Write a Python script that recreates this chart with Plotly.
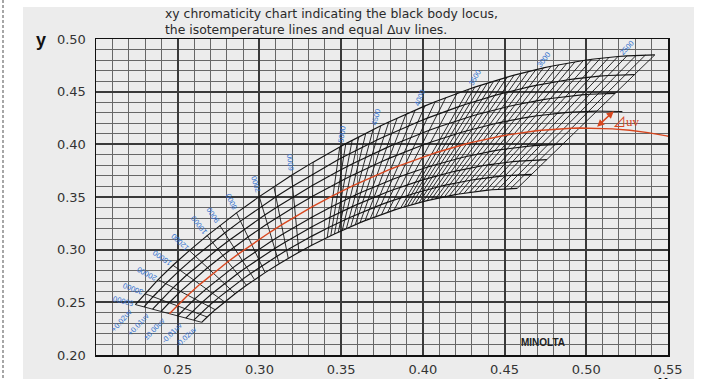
import math
import numpy as np
import plotly.graph_objects as go

# ---------------- values ----------------
# colour temperatures (K) of the isotemperature lines drawn in the mesh
ISO_TEMPS_K = [2300, 2350, 2400, 2450, 2500, 2550, 2600, 2650, 2700, 2750, 2800, 2850,
               2900, 2950, 3000, 3050, 3100, 3150, 3200, 3250, 3300, 3350, 3400, 3450,
               3500, 3600, 3700, 3800, 3900, 4000, 4100, 4200, 4300, 4400, 4500, 4600,
               4700, 4800, 4900, 5000, 5500, 6000, 6500, 7000, 8000, 9000, 10000, 12000,
               15000, 20000, 30000, 50000]
# equal delta-uv lines of the mesh
DUV_LEVELS = [-0.02, -0.015, -0.01, -0.005, 0.0, 0.005, 0.01, 0.015, 0.02]
# labelled isotemperature lines
LABEL_TEMPS_K = [2500, 3000, 3500, 4000, 4500, 5000, 6000, 7000, 8000, 9000, 10000,
                 12000, 15000, 20000, 30000, 50000]
# labelled delta-uv lines
DUV_LABEL_LEVELS = [0.02, 0.01, 0.0, -0.01, -0.02]
DUV_LABEL_TEXT = ["+0.02uv", "+0.01uv", "±0.00uv", "-0.01uv", "-0.02uv"]
# black body locus continues past the mesh to these temperatures
LOCUS_TAIL_K = [2200, 2100, 2000, 1900, 1800, 1700]
# one delta-uv line is prolonged to illustrate the delta-uv arrow
EXT_LINE_DUV = 0.005
EXT_LINE_TAIL_K = [2250, 2200, 2150]
ARROW_T_K = 2200
X_TICKS = [0.25, 0.30, 0.35, 0.40, 0.45, 0.50, 0.55]
X_TICK_TEXT = ["0.25", "0.30", "0.35", "0.40", "0.45", "0.50", "0.55"]
Y_TICKS = [0.20, 0.25, 0.30, 0.35, 0.40, 0.45, 0.50]
Y_TICK_TEXT = ["0.20", "0.25", "0.30", "0.35", "0.40", "0.45", "0.50"]
X_RANGE = [0.20, 0.55]
Y_RANGE = [0.20, 0.50]

# ---------------- colour-science conversion (T, duv) -> CIE 1931 xy ----------------
def planck_uv(T):
    """Planckian locus in CIE 1960 uv (Krystek 1985 rational approximation)."""
    T = np.asarray(T, dtype=float)
    u = (0.860117757 + 1.54118254e-4 * T + 1.28641212e-7 * T ** 2) / \
        (1 + 8.42420235e-4 * T + 7.08145163e-7 * T ** 2)
    v = (0.317398726 + 4.22806245e-5 * T + 4.20481691e-8 * T ** 2) / \
        (1 - 2.89741816e-5 * T + 1.61456053e-7 * T ** 2)
    return u, v


def cct_duv_to_xy(T, duv):
    T = np.asarray(T, dtype=float)
    u, v = planck_uv(T)
    h = T * 1e-4
    u1, v1 = planck_uv(T + h)
    u0, v0 = planck_uv(T - h)
    tu, tv = u1 - u0, v1 - v0
    n = np.hypot(tu, tv)
    tu, tv = tu / n, tv / n
    uu = u + duv * tv
    vv = v - duv * tu
    d = 2 * uu - 8 * vv + 4
    return 3 * uu / d, 2 * vv / d


# ---------------- figure geometry ----------------
W, H = 722, 379
ML, MR, MT, MB = 96, 54, 39, 24
PW, PH = W - ML - MR, H - MT - MB


def to_px(x, y):
    return (ML + (x - X_RANGE[0]) / (X_RANGE[1] - X_RANGE[0]) * PW,
            MT + (Y_RANGE[1] - y) / (Y_RANGE[1] - Y_RANGE[0]) * PH)


def from_px(px, py):
    return (X_RANGE[0] + (px - ML) / PW * (X_RANGE[1] - X_RANGE[0]),
            Y_RANGE[1] - (py - MT) / PH * (Y_RANGE[1] - Y_RANGE[0]))


def paper(px, py):
    return (px - ML) / PW, 1 - (py - MT) / PH


RED = "#d8471f"
BLUE = "#2f6fce"
INK = "#141414"

fig = go.Figure()

# isotemperature lines
ix, iy = [], []
for T in ISO_TEMPS_K:
    xa, ya = cct_duv_to_xy(T, DUV_LEVELS[0])
    xb, yb = cct_duv_to_xy(T, DUV_LEVELS[-1])
    ix += [float(xa), float(xb), None]
    iy += [float(ya), float(yb), None]
fig.add_trace(go.Scatter(x=ix, y=iy, mode="lines", line=dict(color=INK, width=0.9),
                         hoverinfo="skip", showlegend=False))

# equal delta-uv lines
temps_sorted = sorted(ISO_TEMPS_K)
dx_, dy_ = [], []
for lvl in DUV_LEVELS:
    if lvl == 0.0:
        continue
    xs, ys = cct_duv_to_xy(temps_sorted, lvl)
    dx_ += list(map(float, xs)) + [None]
    dy_ += list(map(float, ys)) + [None]
fig.add_trace(go.Scatter(x=dx_, y=dy_, mode="lines", line=dict(color=INK, width=1.15),
                         hoverinfo="skip", showlegend=False))

# prolonged delta-uv line near the arrow
ext_t = [min(ISO_TEMPS_K)] + EXT_LINE_TAIL_K
ex, ey = cct_duv_to_xy(ext_t, EXT_LINE_DUV)
fig.add_trace(go.Scatter(x=ex, y=ey, mode="lines", line=dict(color=INK, width=1.0),
                         hoverinfo="skip", showlegend=False))

# black body locus (red)
locus_t = sorted(ISO_TEMPS_K + LOCUS_TAIL_K)
lx, ly = cct_duv_to_xy(locus_t, 0.0)
fig.add_trace(go.Scatter(x=lx, y=ly, mode="lines", line=dict(color=RED, width=1.4),
                         hoverinfo="skip", showlegend=False))

annotations = []
label_font = dict(family="Liberation Sans Narrow, Liberation Sans, Arial", size=7.5, color=BLUE)

# temperature labels along the outer end of each labelled isotemperature line
for T in LABEL_TEMPS_K:
    ax_, ay_ = to_px(*cct_duv_to_xy(T, DUV_LEVELS[0]))
    bx, by = to_px(*cct_duv_to_xy(T, DUV_LEVELS[-1]))
    vx, vy = bx - ax_, by - ay_
    L = math.hypot(vx, vy)
    vx, vy = vx / L, vy / L
    cx, cy = bx + vx * 13, by + vy * 13
    ang = math.degrees(math.atan2(-vy, vx))
    x, y = from_px(cx, cy)
    annotations.append(dict(x=x, y=y, xref="x", yref="y", text=str(T), textangle=-ang,
                            showarrow=False, font=label_font, xanchor="center", yanchor="middle"))

# delta-uv labels at the high temperature end
t_end, t_next = sorted(ISO_TEMPS_K)[-1], sorted(ISO_TEMPS_K)[-2]
for lvl, txt in zip(DUV_LABEL_LEVELS, DUV_LABEL_TEXT):
    p0x, p0y = to_px(*cct_duv_to_xy(t_end, lvl))
    p1x, p1y = to_px(*cct_duv_to_xy(t_next, lvl))
    vx, vy = p1x - p0x, p1y - p0y
    L = math.hypot(vx, vy)
    vx, vy = vx / L, vy / L
    cx, cy = p0x - vx * 21, p0y - vy * 21
    ang = math.degrees(math.atan2(-vy, vx))
    x, y = from_px(cx, cy)
    annotations.append(dict(x=x, y=y, xref="x", yref="y", text=txt, textangle=-ang,
                            showarrow=False, font=label_font, xanchor="center", yanchor="middle"))

# delta-uv arrow
tx, ty = cct_duv_to_xy(ARROW_T_K, 0.0)
hx, hy = cct_duv_to_xy(ARROW_T_K, EXT_LINE_DUV)
annotations.append(dict(x=float(hx), y=float(hy), ax=float(tx), ay=float(ty), xref="x", yref="y",
                        axref="x", ayref="y", text="", showarrow=True, arrowhead=2,
                        arrowside="end+start", arrowsize=0.9, arrowwidth=1.6, arrowcolor=RED,
                        standoff=0, startstandoff=0))
hpx, hpy = to_px(float(hx), float(hy))
tpx, tpy = from_px(hpx + 13, hpy + 10)
annotations.append(dict(x=tpx, y=tpy, xref="x", yref="y", text="⊿uv", showarrow=False,
                        font=dict(family="Liberation Serif, Noto Sans CJK JP", size=13, color=RED),
                        xanchor="center", yanchor="middle"))

# title (two lines), axis letters, logo
title_font = dict(family="DejaVu Sans, Verdana", size=12.4, color="#2a2a2a")
px_, py_ = paper(163, 22)
annotations.append(dict(x=px_, y=py_, xref="paper", yref="paper", showarrow=False,
                        text="xy chromaticity chart indicating the black body locus,<br>"
                             "the isotemperature lines and equal Δuv lines.",
                        xanchor="left", yanchor="middle", align="left", font=title_font))
px_, py_ = paper(41, 40)
annotations.append(dict(x=px_, y=py_, xref="paper", yref="paper", showarrow=False, text="<b>y</b>",
                        xanchor="center", yanchor="middle",
                        font=dict(family="Liberation Sans, Arial", size=18, color="#111111")))
px_, py_ = paper(663, 382)
annotations.append(dict(x=px_, y=py_, xref="paper", yref="paper", showarrow=False, text="<b>x</b>",
                        xanchor="center", yanchor="middle",
                        font=dict(family="Liberation Sans, Arial", size=18, color="#111111")))
px_, py_ = paper(543, 342)
annotations.append(dict(x=px_, y=py_, xref="paper", yref="paper", showarrow=False, text="<b>MINOLTA</b>",
                        xanchor="center", yanchor="middle",
                        font=dict(family="Liberation Sans, Arial", size=10, color="#222222")))

# page decoration: grey scanned sheet and dashed page border
gx0, gy0 = paper(23, 7)
gx1, gy1 = paper(694, 379)
bx0, by0 = paper(3, 0)
bx1, by1 = paper(3, 379)
shapes = [
    dict(type="rect", xref="paper", yref="paper", x0=gx0, y0=gy1, x1=gx1, y1=gy0,
         fillcolor="#ececec", line=dict(width=0), layer="below"),
    dict(type="line", xref="paper", yref="paper", x0=bx0, y0=by0, x1=bx1, y1=by1,
         line=dict(color="#8a8a8a", width=1.5, dash="3px,2px"), layer="above"),
]

axis_font = dict(family="DejaVu Sans, Verdana", size=13, color="#333333")
common_axis = dict(tickmode="array", showgrid=True, gridcolor="#3a3a3a", gridwidth=2,
                   zeroline=False, showline=True, linecolor="#111111", linewidth=1.5,
                   mirror=True, ticks="", tickfont=axis_font, automargin=False,
                   fixedrange=True)
fig.update_layout(
    width=W, height=H,
    margin=dict(l=ML, r=MR, t=MT, b=MB, pad=0, autoexpand=False),
    paper_bgcolor="#ffffff",
    plot_bgcolor="#ececec",
    annotations=annotations,
    shapes=shapes,
    showlegend=False,
    xaxis=dict(range=X_RANGE, tickvals=X_TICKS, ticktext=X_TICK_TEXT, ticklabelstandoff=2,
               minor=dict(dtick=0.01, tick0=0.20, showgrid=True, gridcolor="#676767", gridwidth=1),
               **common_axis),
    yaxis=dict(range=Y_RANGE, tickvals=Y_TICKS, ticktext=Y_TICK_TEXT, ticklabelstandoff=6,
               minor=dict(dtick=0.01, tick0=0.20, showgrid=True, gridcolor="#676767", gridwidth=1),
               **common_axis),
)

fig.write_html("out.html", config={"displayModeBar": False, "staticPlot": True},
               post_script="document.body.style.margin='0px';document.body.style.overflow='hidden';")
